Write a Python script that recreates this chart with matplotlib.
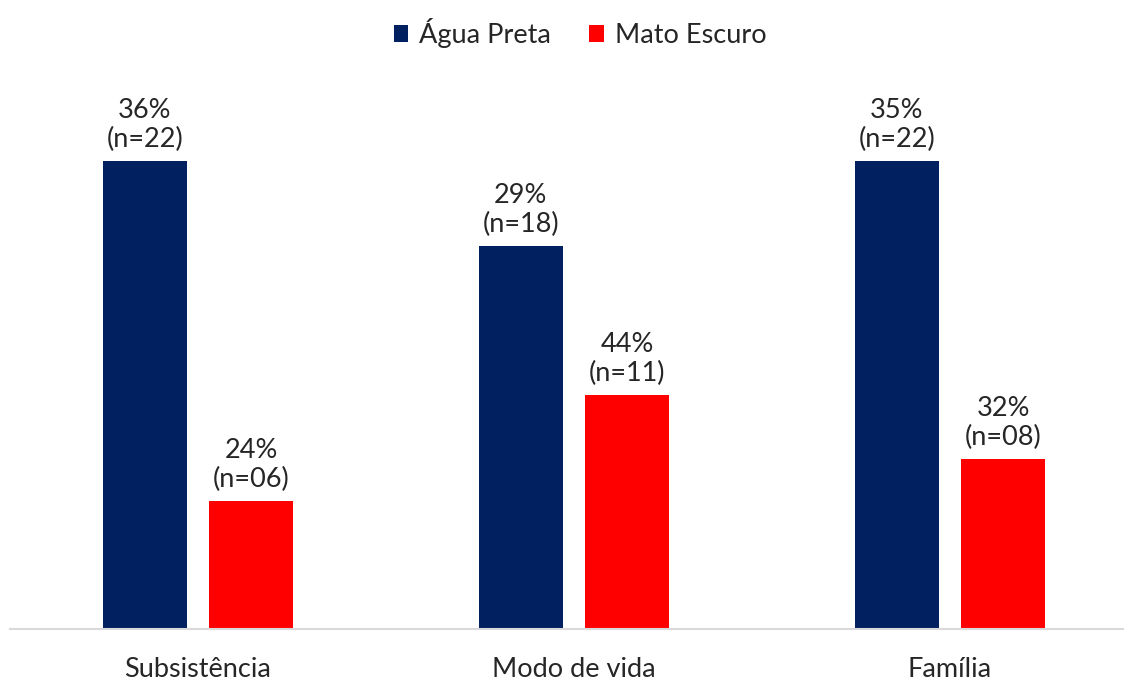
import numpy as np
import matplotlib.pyplot as plt
from matplotlib.patches import Patch

plt.rcParams['font.family'] = ['Lato', 'DejaVu Sans']

# --- Data ---
categories = ['Subsistência', 'Modo de vida', 'Família']
series_names = ['Água Preta', 'Mato Escuro']
agua_pct = [36, 29, 35]
agua_n = [22, 18, 22]
mato_pct = [24, 44, 32]
mato_n = [6, 11, 8]

COLORS = ['#002060', '#FF0000']
FONT_SIZE = 19.5

fig = plt.figure(figsize=(11.24, 6.8), dpi=100)
# axes box in pixels: left 10, baseline at y=629, top at y=97
ax = fig.add_axes([10 / 1124, (680 - 629) / 680, 1114 / 1124, 532 / 680])

x = np.arange(len(categories))
width = 0.224
gap = 0.059
offsets = [-(width + gap) / 2, (width + gap) / 2]

for off, ns, pcts, color in zip(offsets, [agua_n, mato_n], [agua_pct, mato_pct], COLORS):
    bars = ax.bar(x + off, ns, width=width, color=color)
    for bar, n, p in zip(bars, ns, pcts):
        ax.annotate(f'{p}%\n(n={n:02d})',
                    xy=(bar.get_x() + bar.get_width() / 2, bar.get_height()),
                    xytext=(0, 6.5), textcoords='offset points',
                    ha='center', va='bottom', fontsize=FONT_SIZE,
                    color='#262626', linespacing=1.2)

ax.set_xlim(-0.5, 2.5 - 14 / 376)
ax.set_ylim(0, 25)
ax.set_xticks(x)
ax.set_xticklabels(categories, fontsize=FONT_SIZE, color='#262626')
ax.tick_params(axis='x', length=0, pad=20)
ax.set_yticks([])
for side in ['left', 'right', 'top']:
    ax.spines[side].set_visible(False)
ax.spines['bottom'].set_color('#D9D9D9')
ax.spines['bottom'].set_linewidth(1.5)

handles = [Patch(facecolor=c, label=s) for c, s in zip(COLORS, series_names)]
fig.legend(handles=handles, loc='center', bbox_to_anchor=(580 / 1124, 1 - 33 / 680),
           ncol=2, frameon=False, fontsize=FONT_SIZE, handlelength=0.55,
           handleheight=0.55, handletextpad=0.4, columnspacing=1.4,
           labelcolor='#262626')

fig.savefig('out.png', dpi=100)
